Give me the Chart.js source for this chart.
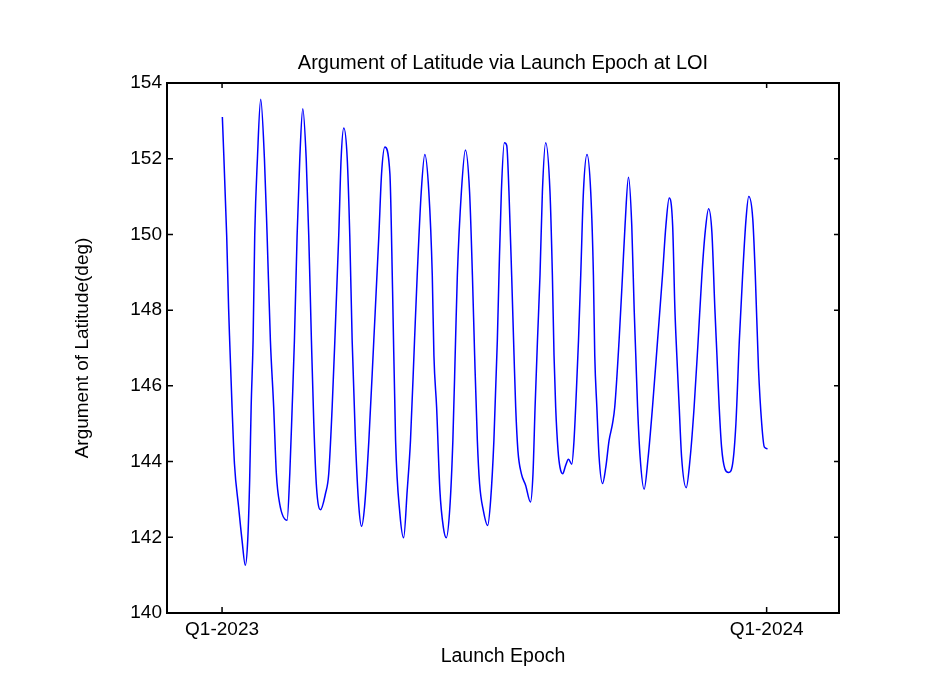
<!DOCTYPE html>
<html>
<head>
<meta charset="utf-8">
<script src="https://cdn.jsdelivr.net/npm/chart.js@4"></script>
<style>
  body { margin: 0; background: #fff; }
</style>
</head>
<body>
<canvas id="myChart" width="931" height="687"></canvas>
<script>
// launch epoch, days after Q1-2023
const launchDays = [
  0.2, 3.1, 4.4, 5.1, 6.7, 8.3, 11.1, 13.4, 15.6, 17.2, 18.5, 19.5, 20.8, 21.9, 23.7, 25.9,
  28.4, 30.2, 32.4, 34.6, 36.4, 38.6, 43.6, 45.4, 47.0, 48.5, 50.3, 52.1, 54.1,
  56.4, 58.1, 59.9, 61.5, 63.3, 66.0, 69.3, 71.5, 73.8, 75.6, 78.2, 79.8, 81.6,
  83.9, 85.6, 87.2, 89.4, 91.7, 93.5, 95.5, 98.4, 101.7, 105.1, 106.9, 109.1,
  112.5, 114.3, 116.3, 119.2, 121.7, 124.1, 126.3, 129.0, 130.8, 133.5, 135.9,
  138.6, 140.9, 142.0, 143.8, 146.0, 148.3, 150.3, 152.7, 154.7, 156.5, 157.7, 160.4, 163.1,
  165.9, 167.8, 169.3, 171.1, 172.6, 175.1, 178.0, 180.0, 182.2, 184.5, 185.6, 187.2, 189.2, 190.8,
  192.3, 194.1, 195.7, 196.8, 198.3, 200.6, 203.5, 206.7, 208.4, 209.8, 211.4, 213.1, 214.7, 216.9,
  219.8, 221.4, 222.5, 223.6, 225.2, 226.5, 228.3, 230.3, 232.2, 234.4, 235.9, 237.5, 238.9, 240.4, 242.2, 244.6,
  247.1, 248.9, 249.8, 251.2, 252.7, 255.0, 257.2, 259.4, 261.7, 263.2, 266.1, 268.4, 270.1, 272.4,
  274.6, 276.2, 277.3, 278.5, 280.2, 282.9, 285.6, 288.5, 291.9, 295.2, 297.5, 299.7,
  302.0, 303.5, 304.8, 306.4, 308.0, 311.1, 313.8, 316.4, 319.1, 321.6, 323.8, 326.1,
  328.3, 330.3, 331.7, 333.2, 334.8, 337.0, 339.5, 342.2, 344.4, 346.7, 348.9, 351.2, 353.0,
  355.7, 357.4, 359.5, 361.7, 363.5, 365.6
];

// argument of latitude at LOI (deg)
const argLatitude = [
  153.1, 149.97, 148.04, 147.2, 145.44, 143.95, 142.8, 141.92, 141.26, 141.92, 143.5, 145.44, 147.2, 149.97, 152.0, 153.57,
  152.0, 149.97, 147.2, 145.44, 143.68, 142.89, 142.45, 143.68, 145.44, 147.2, 149.97, 152.0, 153.32,
  152.0, 149.97, 147.2, 145.0, 143.33, 142.73, 143.15, 143.68, 145.44, 147.2, 149.97, 152.0, 152.81,
  152.0, 149.97, 147.2, 144.56, 142.8, 142.29, 142.8, 144.56, 147.2, 149.97, 151.6, 152.31,
  151.6, 148.5, 144.56, 142.62, 141.99, 143.24, 144.56, 147.2, 148.92, 151.12, 152.11,
  151.12, 148.92, 146.8, 145.44, 143.24, 142.27, 141.99, 142.8, 144.56, 147.2, 148.92, 151.12, 152.23,
  151.12, 148.92, 146.8, 144.56, 143.42, 142.71, 142.31, 142.97, 144.56, 147.2, 148.92, 151.12, 152.42, 152.35,
  151.12, 148.92, 146.8, 145.44, 144.29, 143.68, 143.37, 142.93, 143.68, 145.44, 147.2, 148.92, 151.12, 152.42,
  151.12, 148.92, 146.8, 145.44, 144.29, 143.85, 143.68, 143.9, 144.06, 143.93, 144.56, 145.88, 147.2, 148.92, 151.12, 152.11,
  151.12, 148.92, 146.8, 145.44, 144.12, 143.42, 143.85, 144.56, 145.0, 145.44, 147.2, 148.92, 150.24, 151.51,
  150.24, 148.04, 146.8, 145.44, 144.12, 143.27, 144.12, 145.44, 147.2, 148.92, 150.24, 150.96,
  150.24, 148.04, 146.8, 145.44, 144.12, 143.31, 144.12, 145.44, 147.2, 148.92, 150.06, 150.68,
  150.06, 148.04, 146.8, 145.44, 144.38, 143.81, 143.71, 143.94, 145.0, 147.2, 148.92, 150.41, 151.0,
  150.41, 148.92, 146.5, 145.0, 144.38, 144.34
];

const xTickValues = [0, 365];
const xTickLabels = ['Q1-2023', 'Q1-2024'];

const FONT = "'Liberation Sans', Arial, sans-serif";

// MATLAB style box with inward ticks
const boxPlugin = {
  id: 'matlabBox',
  afterDatasetsDraw(chart) {
    const { ctx, chartArea: a, scales: { x, y } } = chart;
    ctx.save();
    ctx.strokeStyle = '#000';
    ctx.lineWidth = 2;
    ctx.strokeRect(a.left, a.top, a.right - a.left, a.bottom - a.top);
    ctx.lineWidth = 1.5;
    ctx.beginPath();
    y.ticks.forEach(t => {
      const py = y.getPixelForValue(t.value);
      ctx.moveTo(a.left, py); ctx.lineTo(a.left + 6, py);
      ctx.moveTo(a.right, py); ctx.lineTo(a.right - 5, py);
    });
    x.ticks.forEach(t => {
      const px = x.getPixelForValue(t.value);
      ctx.moveTo(px, a.bottom); ctx.lineTo(px, a.bottom - 6);
      ctx.moveTo(px, a.top); ctx.lineTo(px, a.top + 5);
    });
    ctx.stroke();
    ctx.restore();
  }
};

document.addEventListener('DOMContentLoaded', function() {
  const ctx = document.getElementById('myChart');
  Chart.defaults.color = '#000';
  Chart.defaults.font.family = FONT;

  new Chart(ctx, {
    type: 'line',
    data: {
      datasets: [{
        data: launchDays.map((d, i) => ({ x: d, y: argLatitude[i] })),
        borderColor: '#0000ff',
        borderWidth: 1.5,
        pointRadius: 0,
        fill: false,
        cubicInterpolationMode: 'monotone'
      }]
    },
    options: {
      responsive: false,
      animation: false,
      devicePixelRatio: 1,
      layout: { padding: { left: 0, right: 92, top: 0, bottom: 0 } },
      plugins: {
        legend: { display: false },
        tooltip: { enabled: false },
        title: {
          display: true,
          fullSize: false,
          text: 'Argument of Latitude via Launch Epoch at LOI',
          font: { size: 20, weight: 'normal' },
          color: '#000',
          padding: { top: 51, bottom: 8 }
        }
      },
      scales: {
        x: {
          type: 'linear',
          min: -36.9,
          max: 413.5,
          grid: { display: false, drawTicks: false },
          border: { display: false },
          afterBuildTicks: s => { s.ticks = xTickValues.map(v => ({ value: v })); },
          afterFit: s => { s.height = 74; },
          ticks: {
            padding: 5,
            maxRotation: 0,
            font: { size: 19 },
            callback: v => xTickLabels[xTickValues.indexOf(v)]
          },
          title: {
            display: true,
            text: 'Launch Epoch',
            font: { size: 19.5 },
            padding: { top: 0, bottom: 19 }
          }
        },
        y: {
          min: 140,
          max: 154,
          grid: { display: false, drawTicks: false },
          border: { display: false },
          afterFit: s => { s.width = 167; },
          ticks: { stepSize: 2, padding: 5, font: { size: 19 } },
          title: {
            display: true,
            text: 'Argument of Latitude(deg)',
            font: { size: 19 },
            padding: { top: 71, bottom: 0 }
          }
        }
      }
    },
    plugins: [boxPlugin]
  });
});
</script>
</body>
</html>
